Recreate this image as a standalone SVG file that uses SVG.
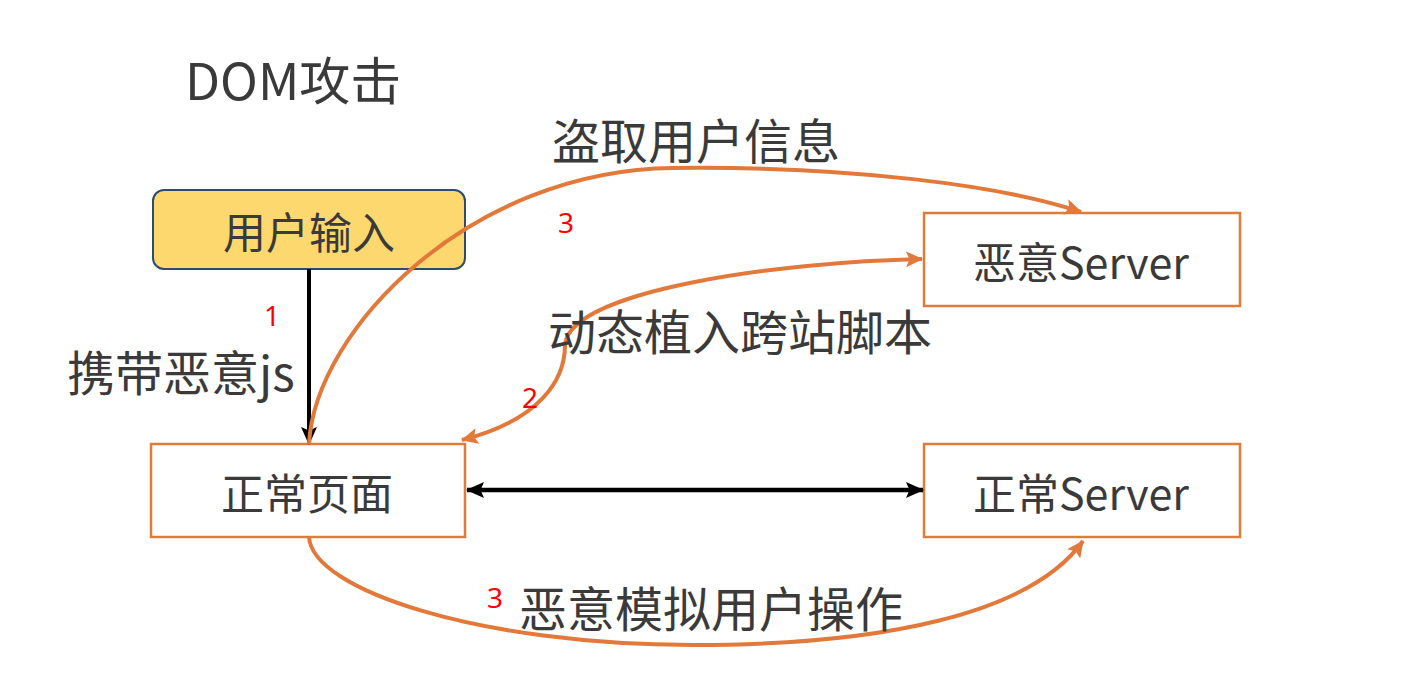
<svg xmlns="http://www.w3.org/2000/svg" width="1405" height="692" viewBox="0 0 1405 692">
<style>
.t{font-family:"Noto Sans CJK SC","Noto Sans",sans-serif;fill:#3a3a3a;}
.lbl{font-size:48px;dominant-baseline:central;}
.nt{font-size:43px;text-anchor:middle;dominant-baseline:central;}
.num{font-family:"Noto Sans","Liberation Sans",sans-serif;fill:#ff0000;font-size:28px;text-anchor:middle;}
.box{fill:#ffffff;stroke:#e07b3a;stroke-width:2.5;}
.oc{fill:none;stroke:#e2793a;stroke-width:4;}
.bk{fill:none;stroke:#000000;}
</style>
<defs>
<marker id="ao" markerUnits="userSpaceOnUse" markerWidth="18" markerHeight="16" refX="16" refY="8" orient="auto-start-reverse" viewBox="0 0 18 16"><path d="M0,0 L17,8 L0,16 L3.5,8 Z" fill="#e2793a"/></marker>
<marker id="ab" markerUnits="userSpaceOnUse" markerWidth="18" markerHeight="16" refX="17" refY="8" orient="auto-start-reverse" viewBox="0 0 18 16"><path d="M0,0 L18,8 L0,16 L3.5,8 Z" fill="#000000"/></marker>
</defs>
<rect width="1405" height="692" fill="#ffffff"/>
<text class="t" x="185" y="78" font-size="51" dominant-baseline="central">DOM攻击</text>
<g id="n-input">
<rect x="153" y="190" width="312" height="79" rx="11" fill="#fdd86e" stroke="#2e4a6e" stroke-width="2"/>
<text class="t nt" x="309" y="230">用户输入</text>
</g>
<g id="n-page">
<rect class="box" x="151" y="444" width="314" height="93"/>
<text class="t nt" x="307" y="491">正常页面</text>
</g>
<g id="n-evil">
<rect class="box" x="924" y="213" width="316" height="93"/>
<text class="t nt" x="1081" y="260">恶意Server</text>
</g>
<g id="n-normal">
<rect class="box" x="924" y="444" width="316" height="93"/>
<text class="t nt" x="1081" y="491">正常Server</text>
</g>
<g id="connectors">
<line class="bk" x1="309" y1="269" x2="309" y2="444" stroke-width="4" marker-end="url(#ab)"/>
<line class="bk" x1="467" y1="490" x2="923" y2="490" stroke-width="4.5" marker-start="url(#ab)" marker-end="url(#ab)"/>
<path class="oc" d="M309,444 C315,330 470,170 673,168 C850,166 1000,185 1081,212" marker-end="url(#ao)"/>
<path class="oc" d="M462,440 C540,420 565,380 565,345 C570,290 780,262 922,259" marker-start="url(#ao)" marker-end="url(#ao)"/>
<path class="oc" d="M309,537 C312,590 480,645 693,645 C880,645 1030,615 1083,541" marker-end="url(#ao)"/>
</g>
<g id="labels">
<text class="t lbl" x="552" y="138">盗取用户信息</text>
<text class="t lbl" x="67" y="370">携带恶意js</text>
<text class="t lbl" x="548" y="329">动态植入跨站脚本</text>
<text class="t lbl" x="519" y="606">恶意模拟用户操作</text>
<text class="num" x="272" y="326">1</text>
<text class="num" x="566" y="233">3</text>
<text class="num" x="530" y="408">2</text>
<text class="num" x="495" y="608">3</text>
</g>
</svg>
